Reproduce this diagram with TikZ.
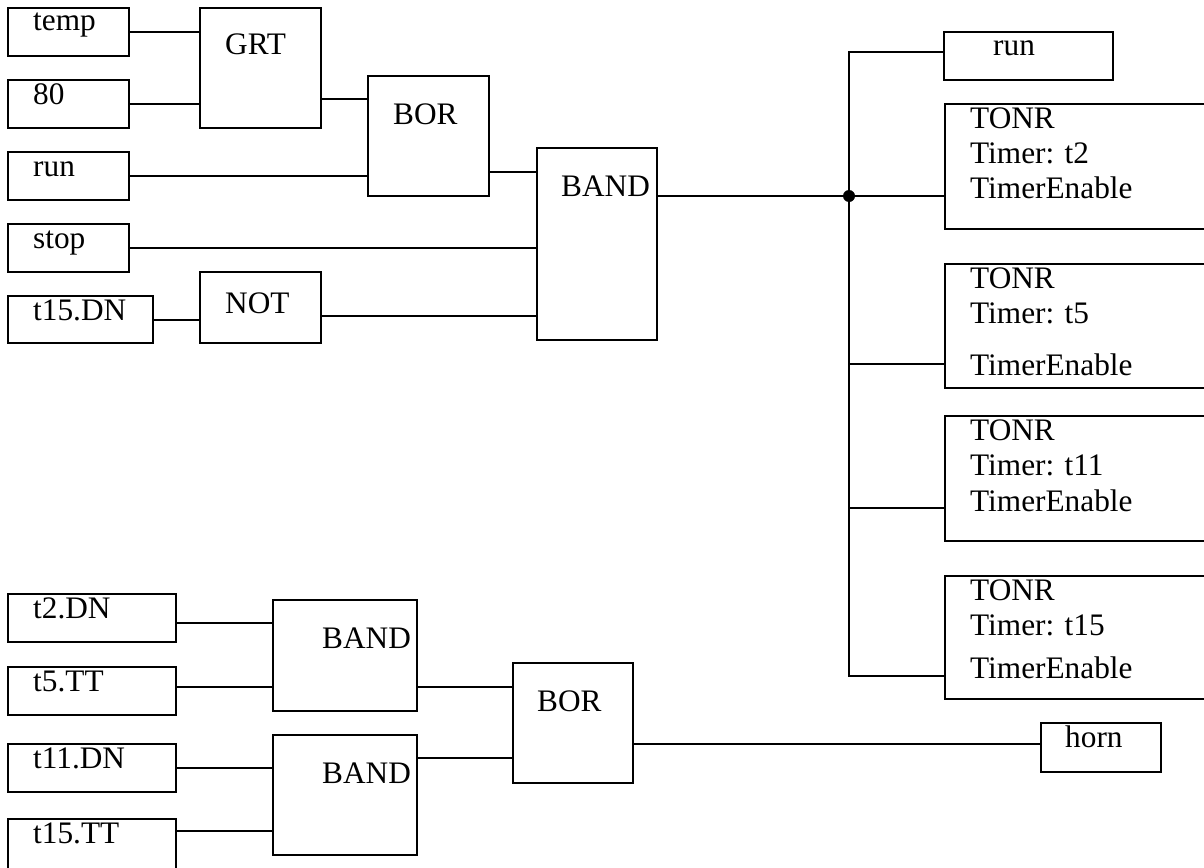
\documentclass[tikz,border=0pt]{standalone}
\usepackage{fontspec}
\setmainfont{Liberation Serif}
\begin{document}
\begin{tikzpicture}[x=1pt,y=-1pt,
  box/.style={draw,line width=1.5pt,rectangle,inner sep=0pt,outer sep=0pt,anchor=north west},
  txt/.style={inner sep=0pt,anchor=base west,font=\fontsize{31.3}{36}\selectfont},
  wire/.style={line width=1.5pt},
  dot/.style={circle,fill,inner sep=0pt,minimum size=12pt}]
\clip (0,0) rectangle (1204,867);
\fill[white] (0,0) rectangle (1204,867);
% ---- boxes
\node[box,minimum width=121pt,minimum height=48pt] (temp) at (8,8) {};
\node[box,minimum width=121pt,minimum height=48pt] (n80) at (8,80) {};
\node[box,minimum width=121pt,minimum height=48pt] (runin) at (8,152) {};
\node[box,minimum width=121pt,minimum height=48pt] (stop) at (8,224) {};
\node[box,minimum width=145pt,minimum height=47pt] (t15dn) at (8,296) {};
\node[box,minimum width=121pt,minimum height=120pt] (grt) at (200,8) {};
\node[box,minimum width=121pt,minimum height=71pt] (not) at (200,272) {};
\node[box,minimum width=121pt,minimum height=120pt] (bor) at (368,76) {};
\node[box,minimum width=120pt,minimum height=192pt] (band) at (537,148) {};
\node[box,minimum width=169pt,minimum height=48pt] (runout) at (944,32) {};
\node[box,minimum width=300pt,minimum height=125pt] (tonrA) at (945,104) {};
\node[box,minimum width=300pt,minimum height=124pt] (tonrB) at (945,264) {};
\node[box,minimum width=300pt,minimum height=125pt] (tonrC) at (945,416) {};
\node[box,minimum width=300pt,minimum height=123pt] (tonrD) at (945,576) {};
\node[box,minimum width=120pt,minimum height=49pt] (horn) at (1041,723) {};
\node[box,minimum width=168pt,minimum height=48pt] (t2dn) at (8,594) {};
\node[box,minimum width=168pt,minimum height=48pt] (t5tt) at (8,667) {};
\node[box,minimum width=168pt,minimum height=48pt] (t11dn) at (8,744) {};
\node[box,minimum width=168pt,minimum height=100pt] (t15tt) at (8,819) {};
\node[box,minimum width=144pt,minimum height=111pt] (bandA) at (273,600) {};
\node[box,minimum width=144pt,minimum height=120pt] (bandB) at (273,735) {};
\node[box,minimum width=120pt,minimum height=120pt] (borB) at (513,663) {};
% ---- texts
\node[txt] (l-temp) at (33,31) {temp};
\node[txt] (l-80) at (33,104) {80};
\node[txt] (l-run) at (33,176) {run};
\node[txt] (l-stop) at (33,248) {stop};
\node[txt] (l-t15dn) at (33,320) {t15.DN};
\node[txt] (l-grt) at (225,55) {GRT};
\node[txt] (l-not) at (225,313) {NOT};
\node[txt] (l-bor) at (393,124) {BOR};
\node[txt] (l-band) at (561,196) {BAND};
\node[txt] (l-runout) at (993,56) {run};
\node[txt] (l-a1) at (970,128) {TONR};
\node[txt] (l-a2) at (970,163) {Timer: t2};
\node[txt] (l-a3) at (970,198) {TimerEnable};
\node[txt] (l-b1) at (970,288) {TONR};
\node[txt] (l-b2) at (970,323) {Timer: t5};
\node[txt] (l-b3) at (970,375) {TimerEnable};
\node[txt] (l-c1) at (970,440) {TONR};
\node[txt] (l-c2) at (970,475) {Timer: t11};
\node[txt] (l-c3) at (970,511) {TimerEnable};
\node[txt] (l-d1) at (970,600) {TONR};
\node[txt] (l-d2) at (970,635) {Timer: t15};
\node[txt] (l-d3) at (970,678) {TimerEnable};
\node[txt] (l-horn) at (1065,747) {horn};
\node[txt] (l-t2dn) at (33,618) {t2.DN};
\node[txt] (l-t5tt) at (33,691) {t5.TT};
\node[txt] (l-t11dn) at (33,768) {t11.DN};
\node[txt] (l-t15tt) at (33,843) {t15.TT};
\node[txt] (l-bandA) at (322,648) {BAND};
\node[txt] (l-bandB) at (322,783) {BAND};
\node[txt] (l-borB) at (537,711) {BOR};
% ---- connectors
\coordinate (jn) at (849,196);
\draw[wire] (temp.east |- 0,32) -- (grt.west |- 0,32);
\draw[wire] (n80.east |- 0,104) -- (grt.west |- 0,104);
\draw[wire] (grt.east |- 0,99) -- (bor.west |- 0,99);
\draw[wire] (runin.east |- 0,176) -- (bor.west |- 0,176);
\draw[wire] (bor.east |- 0,172) -- (band.west |- 0,172);
\draw[wire] (stop.east |- 0,248) -- (band.west |- 0,248);
\draw[wire] (t15dn.east |- 0,320) -- (not.west |- 0,320);
\draw[wire] (not.east |- 0,316) -- (band.west |- 0,316);
\draw[wire] (band.east |- jn) -- (jn) -- (tonrA.west |- jn);
\draw[wire] (runout.west |- 0,52) -- (jn |- 0,52) -- (jn |- 0,676) -- (tonrD.west |- 0,676);
\draw[wire] (jn |- 0,364) -- (tonrB.west |- 0,364);
\draw[wire] (jn |- 0,508) -- (tonrC.west |- 0,508);
\node[dot] (jdot) at (jn) {};
\draw[wire] (t2dn.east |- 0,623) -- (bandA.west |- 0,623);
\draw[wire] (t5tt.east |- 0,687) -- (bandA.west |- 0,687);
\draw[wire] (t11dn.east |- 0,768) -- (bandB.west |- 0,768);
\draw[wire] (t15tt.east |- 0,831) -- (bandB.west |- 0,831);
\draw[wire] (bandA.east |- 0,687) -- (borB.west |- 0,687);
\draw[wire] (bandB.east |- 0,758) -- (borB.west |- 0,758);
\draw[wire] (borB.east |- 0,744) -- (horn.west |- 0,744);
\end{tikzpicture}
\end{document}
